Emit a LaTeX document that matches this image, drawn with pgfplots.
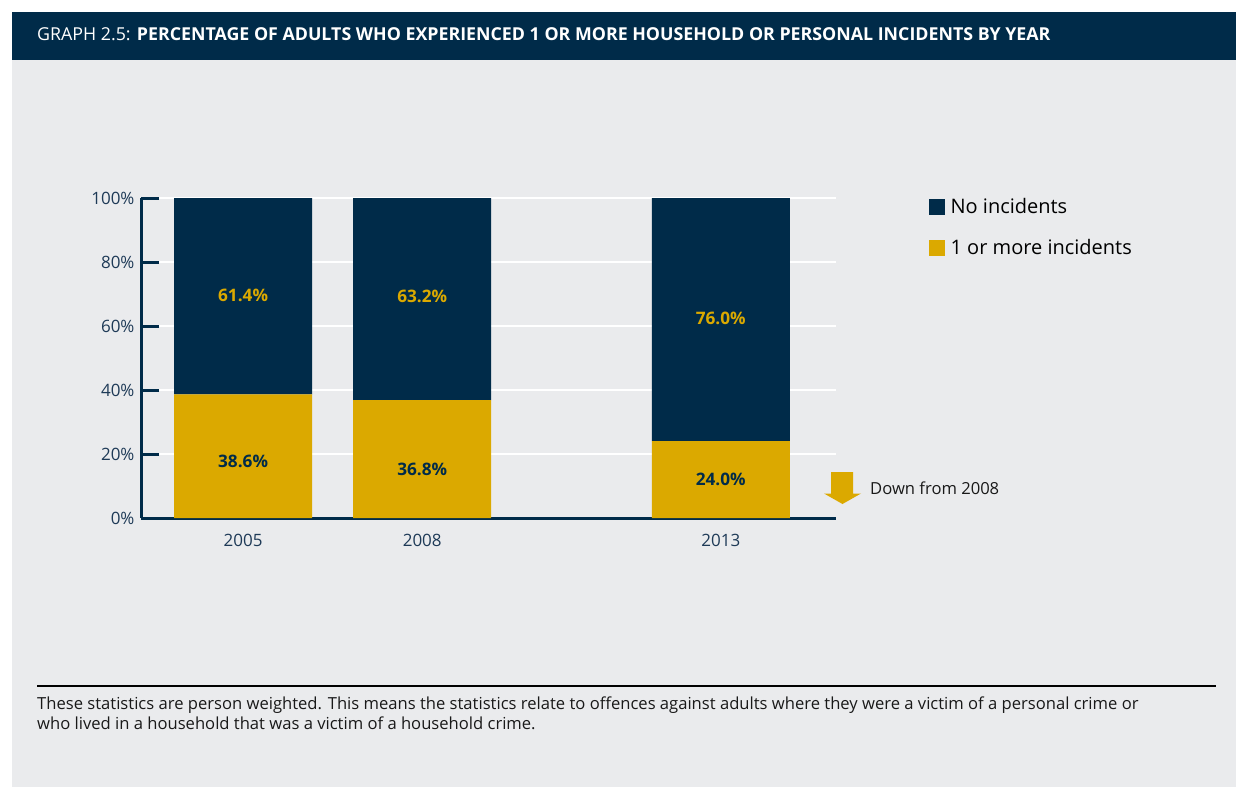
\documentclass[border=0pt]{standalone}
\usepackage{fontspec}
\setmainfont{Open Sans}
\usepackage{pgfplots}
\pgfplotsset{compat=1.18}
\definecolor{navy}{RGB}{0,43,73}
\definecolor{gold}{RGB}{219,169,0}
\definecolor{bg}{RGB}{234,235,237}
\definecolor{ticktext}{RGB}{30,58,87}
\definecolor{darktext}{RGB}{25,25,25}
\begin{document}
\begin{tikzpicture}
\fill[white] (0pt,0pt) rectangle (1236pt,-787pt);
\fill[bg] (12pt,-12pt) rectangle (1236pt,-787pt);
\fill[navy] (12pt,-12pt) rectangle (1236pt,-60pt);
\node[anchor=base west, text=white, font=\fontsize{17.8}{20}\selectfont, inner sep=0pt] at (37pt,-40pt)
  {GRAPH 2.5: \textbf{PERCENTAGE OF ADULTS WHO EXPERIENCED 1 OR MORE HOUSEHOLD OR PERSONAL INCIDENTS BY YEAR}};
\begin{axis}[
  at={(141pt,-518pt)}, anchor=south west,
  scale only axis, width=695pt, height=320pt,
  xmin=2003.29, xmax=2014.93, ymin=0, ymax=100,
  ybar stacked, bar width=138pt,
  axis lines=left,
  axis line style={-, line width=3pt, draw=navy},
  ymajorgrids, grid style={white, line width=2.5pt},
  ytick={0,20,40,60,80,100},
  yticklabels={0\%,20\%,40\%,60\%,80\%,100\%},
  tick align=inside, major tick length=18pt,
  y tick style={draw=navy, line width=3pt},
  xtick={2005,2008,2013}, xticklabels={2005,2008,2013},
  x tick style={draw=none},
  tick label style={font=\fontsize{17}{20}\selectfont, text=ticktext},
  yticklabel style={xshift=-3pt},
  xticklabel style={yshift=-13pt},
  legend style={at={(1.1338,1.006)}, anchor=north west, draw=none, fill=none,
    inner sep=0pt, row sep=20pt, column sep=4pt, font=\fontsize{20}{23}\selectfont,
    cells={anchor=west}},
]
\addlegendimage{legend image code/.code={\fill[navy] (0pt,-7.5pt) rectangle (15pt,7.5pt);}}
\addlegendentry{No incidents}
\addlegendimage{legend image code/.code={\fill[gold] (0pt,-7.5pt) rectangle (15pt,7.5pt);}}
\addlegendentry{1 or more incidents}
\addplot[fill=gold, draw=none, forget plot] coordinates {(2005,38.6) (2008,36.8) (2013,24.0)};
\addplot[fill=navy, draw=none, forget plot] coordinates {(2005,61.4) (2008,63.2) (2013,76.0)};
\coordinate (a1) at (axis cs:2005,17.8);
\coordinate (a2) at (axis cs:2008,15.3);
\coordinate (a3) at (axis cs:2013,12.2);
\coordinate (b1) at (axis cs:2005,69.7);
\coordinate (b2) at (axis cs:2008,69.1);
\coordinate (b3) at (axis cs:2013,62.5);
\end{axis}
\begin{scope}[every node/.style={font=\fontsize{17.2}{20}\selectfont\bfseries}]
\node[text=navy] at (a1) {38.6\%};
\node[text=navy] at (a2) {36.8\%};
\node[text=navy] at (a3) {24.0\%};
\node[text=gold] at (b1) {61.4\%};
\node[text=gold] at (b2) {63.2\%};
\node[text=gold] at (b3) {76.0\%};
\end{scope}
\fill[gold] (831pt,-472pt) -- (853pt,-472pt) -- (853pt,-493.5pt) -- (861pt,-493.5pt) -- (842.5pt,-504pt) -- (824pt,-493.5pt) -- (831pt,-493.5pt) -- cycle;
\node[anchor=west, inner sep=0pt, font=\fontsize{16.6}{19}\selectfont, text=darktext] at (870pt,-488pt) {Down from 2008};
\draw[line width=1.5pt, black] (37pt,-686pt) -- (1216pt,-686pt);
\node[anchor=base west, inner sep=0pt, font=\fontsize{16.6}{20}\selectfont, text=darktext] at (37pt,-709pt)
  {These statistics are person weighted. This means the statistics relate to offences against adults where they were a victim of a personal crime or};
\node[anchor=base west, inner sep=0pt, font=\fontsize{16.6}{20}\selectfont, text=darktext] at (37pt,-729pt)
  {who lived in a household that was a victim of a household crime.};
\end{tikzpicture}
\end{document}
